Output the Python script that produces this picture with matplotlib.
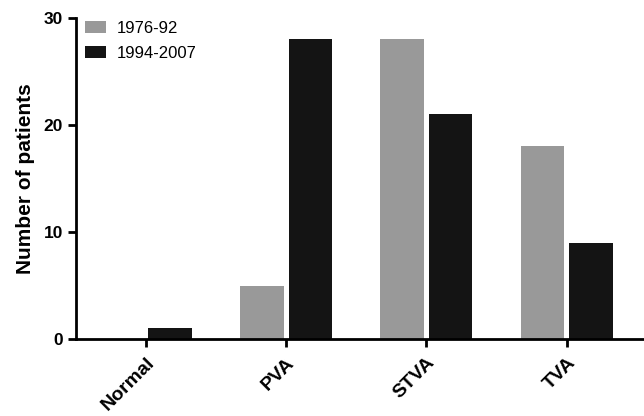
import numpy as np
import matplotlib
matplotlib.use('Agg')
import matplotlib.pyplot as plt

plt.rcParams['font.family'] = ['Liberation Sans', 'DejaVu Sans']

categories = ['Normal', 'PVA', 'STVA', 'TVA']
early = [0, 5, 28, 18]       # 1976-92
late = [1, 28, 21, 9]        # 1994-2007
series_names = ['1976-92', '1994-2007']

W, H = 644, 416
fig = plt.figure(figsize=(W / 100, H / 100), dpi=100)
ax = fig.add_axes([75.5 / W, 1 - 339 / H, (W - 75.5) / W, 321 / H])

x = np.arange(len(categories))
width = 0.31
gap = 0.035
ax.bar(x - gap / 2 - width / 2, early, width, color='#999999', label=series_names[0])
ax.bar(x + gap / 2 + width / 2, late, width, color='#141414', label=series_names[1])

ax.set_xlim(-0.50, 3.55)
ax.set_ylim(0, 30)
ax.set_yticks([0, 10, 20, 30])
ax.set_xticks(x)
ax.set_xticklabels(categories, rotation=45, ha='right', rotation_mode='anchor',
                   fontsize=14, fontweight='bold')
for lab in ax.get_yticklabels():
    lab.set_fontsize(12.5)
    lab.set_fontweight('bold')
ax.set_ylabel('Number of patients', fontsize=15, fontweight='bold', labelpad=6)

for side in ['top', 'right']:
    ax.spines[side].set_visible(False)
for side in ['left', 'bottom']:
    ax.spines[side].set_linewidth(2)
ax.tick_params(width=2, length=6, direction='out', pad=3)
ax.tick_params(axis='x', pad=5)

ax.legend(loc='upper left', bbox_to_anchor=(78.3 / W, 1 - 14 / H),
          bbox_transform=fig.transFigure, borderaxespad=0, frameon=False,
          fontsize=12, handlelength=1.26, handleheight=0.72,
          handletextpad=0.66, labelspacing=0.6)

fig.savefig('out.png', dpi=100)
